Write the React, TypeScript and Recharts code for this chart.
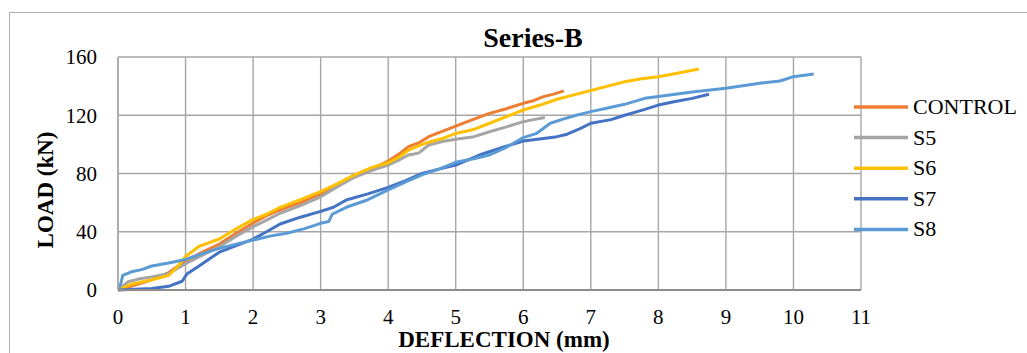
import React from "react";
import { LineChart, Line, XAxis, YAxis, CartesianGrid } from "recharts";

type Pt = { x: number; y: number };

const xTicks = [0, 1, 2, 3, 4, 5, 6, 7, 8, 9, 10, 11];
const yTicks = [0, 40, 80, 120, 160];

// deflection (mm), load (kN)
const control: [number, number][] = [
  [0, 0], [0.15, 2], [0.3, 4], [0.5, 7], [0.75, 12], [1, 20], [1.25, 26],
  [1.5, 31.5], [1.75, 39], [2, 46], [2.2, 51], [2.4, 55], [2.7, 60], [3, 66],
  [3.25, 72], [3.5, 78], [3.75, 83], [4, 88.5], [4.15, 93], [4.3, 98.4],
  [4.45, 101], [4.6, 105.3], [4.8, 109], [5, 112.5], [5.25, 117], [5.5, 121.3],
  [5.75, 124.5], [6, 128.2], [6.15, 130], [6.3, 132.8], [6.45, 134.5], [6.6, 136.7],
];

const s5: [number, number][] = [
  [0, 0], [0.08, 3], [0.15, 5.7], [0.3, 7.5], [0.5, 9], [0.75, 11.4], [1, 18],
  [1.25, 24], [1.5, 29.7], [1.75, 37], [2, 43.5], [2.2, 48], [2.4, 52.7],
  [2.7, 58], [3, 64], [3.25, 71], [3.5, 77.4], [3.75, 82], [4, 85.8],
  [4.15, 89], [4.3, 92.7], [4.45, 94], [4.6, 99.6], [4.8, 102], [5, 103.5],
  [5.25, 105], [5.5, 108.7], [5.75, 112], [6, 115.6], [6.15, 117], [6.32, 118.4],
];

const s6: [number, number][] = [
  [0, 0], [0.2, 4], [0.5, 7], [0.75, 10], [0.9, 17], [1, 23], [1.2, 30],
  [1.5, 35], [1.75, 42], [2, 48.5], [2.2, 52], [2.4, 56.8], [2.7, 62], [3, 67.5],
  [3.25, 73], [3.5, 79], [3.75, 84], [4, 87.4], [4.15, 91], [4.3, 96],
  [4.45, 99], [4.6, 101.5], [4.8, 104], [5, 107.5], [5.25, 110], [5.5, 114.5],
  [5.75, 119], [6, 123.6], [6.25, 127], [6.5, 131], [6.75, 134], [7, 137],
  [7.25, 140], [7.5, 143], [7.75, 145], [8, 146.5], [8.3, 149], [8.6, 151.8],
];

const s7: [number, number][] = [
  [0, 0], [0.25, 0.5], [0.5, 1], [0.75, 2.5], [0.95, 6], [1.02, 11], [1.2, 16.5],
  [1.5, 26], [1.75, 30.5], [2, 35], [2.2, 40], [2.4, 45.3], [2.7, 50], [3, 54],
  [3.19, 56.8], [3.38, 61.8], [3.7, 66], [4, 70.5], [4.25, 75], [4.5, 80],
  [4.75, 83], [5, 85.8], [5.35, 92.7], [5.7, 98], [6, 102.3], [6.3, 104],
  [6.5, 105.3], [6.65, 107], [6.85, 111], [7, 114.5], [7.3, 117], [7.5, 120],
  [7.8, 124], [8, 127], [8.25, 129.5], [8.5, 131.6], [8.75, 134.4],
];

const s8: [number, number][] = [
  [0, 0], [0.04, 4], [0.07, 10], [0.2, 12.5], [0.35, 14], [0.5, 16.5],
  [0.75, 18.5], [1, 21], [1.25, 25], [1.5, 28.6], [1.75, 31.5], [2, 34.3],
  [2.25, 37], [2.5, 39], [2.75, 42], [3, 45.8], [3.12, 47], [3.17, 52],
  [3.38, 56.8], [3.7, 62], [4, 68.7], [4.25, 74], [4.5, 79], [4.75, 83],
  [5, 87.7], [5.25, 90], [5.5, 92.7], [5.75, 98], [6, 104.6], [6.2, 107.6],
  [6.4, 114.5], [6.6, 117.5], [6.8, 120.2], [7, 122.5], [7.25, 125], [7.5, 127.5],
  [7.8, 131.6], [8, 132.8], [8.5, 136], [9, 138.5], [9.5, 142], [9.8, 143.5],
  [10, 146.5], [10.3, 148.3],
];

const seriesNames = ["CONTROL", "S5", "S6", "S7", "S8"];
const seriesColors = ["#ED7D31", "#A5A5A5", "#FFC000", "#4472C4", "#5B9BD5"];
const seriesData = [control, s5, s6, s7, s8];

const toPts = (arr: [number, number][]): Pt[] => arr.map(([x, y]) => ({ x, y }));

const FONT = '"Liberation Serif", "Times New Roman", serif';

export default function App() {
  return (
    <div style={{ position: "absolute", left: 0, top: 0, width: 1027, height: 353, overflow: "hidden", background: "#fff" }}>
      <div
        style={{
          position: "absolute",
          left: 9,
          top: 12,
          width: 1040,
          height: 360,
          border: "1px solid #b0b0b0",
        }}
      />
      <div style={{ position: "absolute", left: 0, top: 0 }}>
        <LineChart
          width={1027}
          height={353}
          margin={{ top: 57, right: 166, bottom: 0, left: 0 }}
        >
          <CartesianGrid stroke="#a6a6a6" strokeWidth={1.4} />
          <XAxis
            type="number"
            dataKey="x"
            domain={[0, 11]}
            ticks={xTicks}
            height={63}
            tickLine={false}
            tickSize={0}
            tickMargin={19}
            axisLine={{ stroke: "#8c8c8c", strokeWidth: 2 }}
            tick={{ fontSize: 21, fill: "#000", fontFamily: FONT }}
            allowDataOverflow
          />
          <YAxis
            type="number"
            domain={[0, 160]}
            ticks={yTicks}
            width={118}
            tickLine={false}
            tickSize={0}
            tickMargin={21}
            axisLine={{ stroke: "#a6a6a6", strokeWidth: 1.4 }}
            tick={{ fontSize: 21, fill: "#000", fontFamily: FONT }}
          />
          {seriesData.map((d, i) => (
            <Line
              key={seriesNames[i]}
              data={toPts(d)}
              dataKey="y"
              name={seriesNames[i]}
              type="linear"
              stroke={seriesColors[i]}
              strokeWidth={3}
              strokeLinejoin="round"
              dot={false}
              isAnimationActive={false}
            />
          ))}
        </LineChart>
      </div>
      <svg
        width={1027}
        height={353}
        style={{ position: "absolute", left: 0, top: 0, pointerEvents: "none" }}
      >
        <text x={533} y={47} textAnchor="middle" fontFamily={FONT} fontWeight="bold" fontSize={28} fill="#000">
          Series-B
        </text>
        <text x={504} y={346.5} textAnchor="middle" fontFamily={FONT} fontWeight="bold" fontSize={23} fill="#000">
          DEFLECTION (mm)
        </text>
        <text
          x={0}
          y={0}
          transform="translate(53, 190) rotate(-90)"
          textAnchor="middle"
          fontFamily={FONT}
          fontWeight="bold"
          fontSize={23}
          fill="#000"
        >
          LOAD (kN)
        </text>
        {seriesNames.map((n, i) => (
          <g key={n}>
            <line x1={854} x2={908} y1={107 + i * 30.6} y2={107 + i * 30.6} stroke={seriesColors[i]} strokeWidth={3.5} />
            <text x={913} y={107 + i * 30.6 + 7} fontFamily={FONT} fontSize={22} fill="#000">
              {n}
            </text>
          </g>
        ))}
      </svg>
    </div>
  );
}
